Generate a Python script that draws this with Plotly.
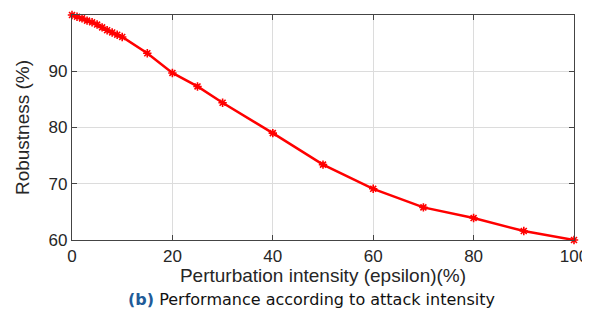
import plotly.graph_objects as go

epsilon = [0, 1, 2, 3, 4, 5, 6, 7, 8, 9, 10, 15, 20, 25, 30, 40, 50, 60, 70, 80, 90, 100]
robustness = [100, 99.7, 99.4, 99.0, 98.7, 98.3, 97.8, 97.3, 96.9, 96.5, 96.1,
              93.2, 89.7, 87.3, 84.4, 79.0, 73.4, 69.1, 65.8, 63.9, 61.6, 60.0]
x_ticks = [0, 20, 40, 60, 80, 100]
y_ticks = [60, 70, 80, 90, 100]

fig = go.Figure()
fig.add_trace(go.Scatter(
    x=epsilon, y=robustness, mode="lines+markers",
    line=dict(color="#ff0000", width=2.5),
    marker=dict(symbol="asterisk", size=7, color="#ff0000",
                line=dict(color="#ff0000", width=1.6)),
    cliponaxis=False, showlegend=False))

axis_common = dict(
    showgrid=True, gridcolor="#dcdcdc", gridwidth=1,
    showline=True, linecolor="#444444", linewidth=1.2, mirror="ticks",
    ticks="inside", ticklen=5, tickcolor="#444444",
    tickfont=dict(family="Liberation Sans, Arial", size=17, color="#262626"),
    zeroline=False, automargin=False,
)
fig.update_xaxes(range=[0, 100], tickvals=x_ticks,
                 title=dict(text="Perturbation intensity (epsilon)(%)", standoff=0,
                            font=dict(family="Liberation Sans, Arial", size=19, color="#262626")),
                 **axis_common)
fig.update_yaxes(range=[60, 100], tickvals=y_ticks,
                 title=dict(text="Robustness (%)", standoff=13,
                            font=dict(family="Liberation Sans, Arial", size=19, color="#262626")),
                 **axis_common)

fig.add_annotation(
    xref="paper", yref="paper", x=0.478, y=-0.215, xanchor="center", yanchor="top",
    text="<b><span style='color:#1f5c99'>(b)</span></b> Performance according to attack intensity",
    showarrow=False, font=dict(family="DejaVu Sans", size=16, color="#111111"))

# The page body has an 8px default margin, so the figure is drawn 8px smaller
fig.update_layout(
    width=582, height=313,
    margin=dict(l=64, r=16, t=7, b=81),
    paper_bgcolor="white", plot_bgcolor="white",
)
fig.write_html("out.html")
